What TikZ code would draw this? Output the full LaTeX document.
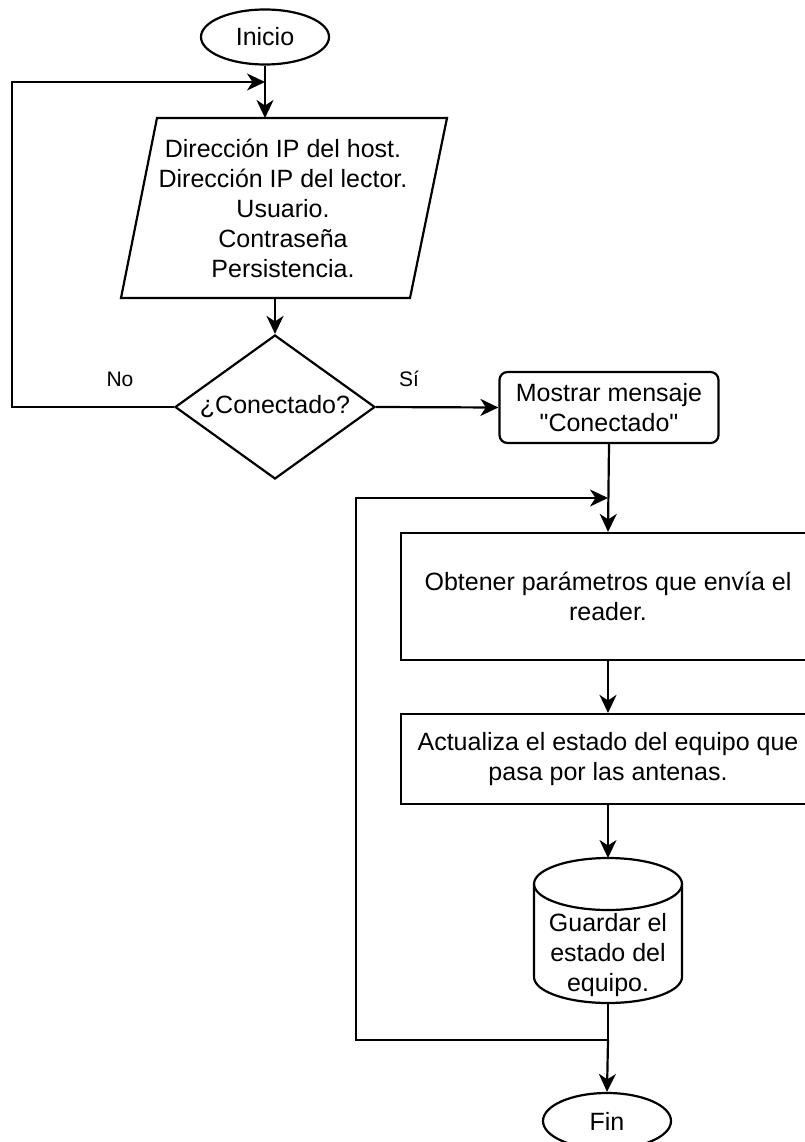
\documentclass[tikz,border=0pt]{standalone}
\usepackage{fontspec}
\setmainfont[Ligatures=TeXOff]{Liberation Sans}
\usetikzlibrary{arrows.meta,shapes.geometric}
\tikzset{
  conn/.style={line width=2.2pt, line join=miter},
  flow/.style={conn, -{Stealth[length=18pt,width=17pt,inset=5.5pt]}},
  txt/.style={font=\fontsize{25}{30}\selectfont, align=center},
  lbl/.style={font=\fontsize{21}{25}\selectfont},
  terminal/.style={draw, conn, fill=white, ellipse, minimum width=128pt, minimum height=55pt, inner sep=0pt, txt},
  process/.style={draw, conn, fill=white, rectangle, inner sep=0pt, txt},
  decision/.style={draw, conn, fill=white, diamond, aspect=1.4, minimum width=200pt, minimum height=144pt, inner sep=0pt, txt},
}
\begin{document}
\begin{tikzpicture}[x=1pt,y=-1pt]
\clip (0,0) rectangle (805,1142);
\fill[white] (0,0) rectangle (805,1142);

% start
\node[terminal] (inicio) at (265,37) {Inicio};

% input data (parallelogram)
\coordinate (p1) at (157,118);
\coordinate (p2) at (447,118);
\coordinate (p3) at (410,298);
\coordinate (p4) at (121,298);
\draw[conn, fill=white] (p1) -- (p2) -- (p3) -- (p4) -- cycle;
\node[txt] (datos) at (283,208) {Dirección IP del host.\\Dirección IP del lector.\\Usuario.\\Contraseña\\Persistencia.};
\coordinate (dIn) at (265,118);
\coordinate (dOut) at (275,298);
\coordinate (j1) at (265,82);
\draw[flow] (inicio.south) -- (dIn);

% decision
\node[decision] (cond) at (275,407) {¿Conectado?};
\draw[flow] (dOut) -- (cond.north);

% message box
\node[process, rounded corners=8pt, minimum width=219pt, minimum height=71pt] (msg) at (609,407.5) {Mostrar mensaje\\"Conectado"};
\draw[flow] (cond.east) -- (msg.west);
\node[lbl] (si) at (409,379) {Sí};

% retry loop
\coordinate (nl) at (12,82);
\draw[flow] (cond.west) -| (nl) -- (j1);
\node[lbl] (no) at (120,379) {No};

% reading loop body
\node[process, minimum width=414pt, minimum height=127pt] (obt) at (608,596.5) {Obtener parámetros que envía el\\reader.};
\draw[flow] (msg.south) -- (obt.north);

\node[process, minimum width=414pt, minimum height=90pt] (act) at (608,759) {Actualiza el estado del equipo que\\pasa por las antenas.};
\draw[flow] (obt.south) -- (act.north);

% storage (cylinder)
\coordinate (cylTop) at (608,858);
\coordinate (cylBot) at (608,1003);
\draw[conn, fill=white] (534,884) -- (534,977)
  arc[start angle=180, end angle=0, x radius=74, y radius=26]
  -- (682,884)
  arc[start angle=0, end angle=-180, x radius=74, y radius=26] -- cycle;
\draw[conn] (534,884) arc[start angle=180, end angle=0, x radius=74, y radius=26];
\node[txt] (cyl) at (608,955) {Guardar el\\estado del\\equipo.};
\draw[flow] (act.south) -- (cylTop);

% loop back and end
\coordinate (j2) at (608,1040);
\coordinate (lp) at (356,498);
\coordinate (j3) at (608,498);
\draw[conn] (cylBot) -- (j2);
\draw[flow] (j2) -| (lp) -- (j3);

\node[terminal, minimum height=56pt] (fin) at (607,1121) {Fin};
\draw[flow] (j2) -- (fin.north);
\end{tikzpicture}
\end{document}
